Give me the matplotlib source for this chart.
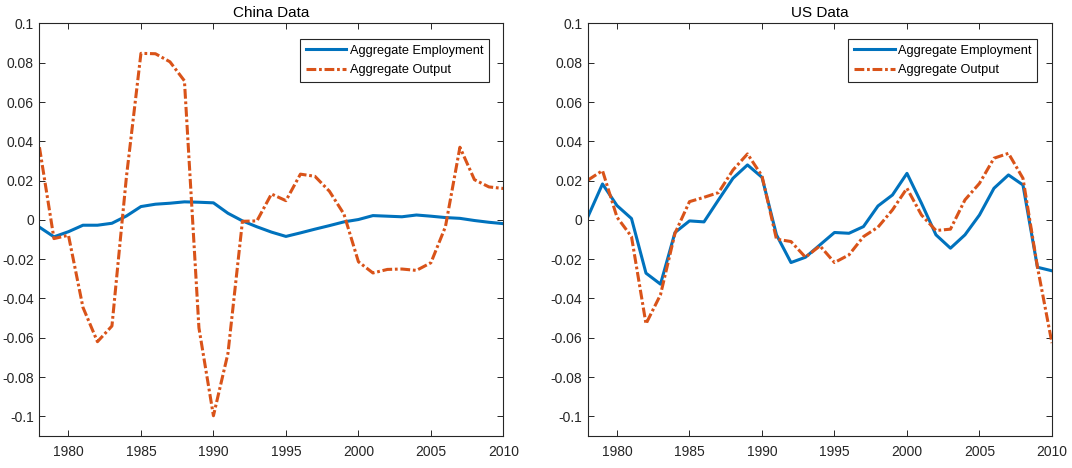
import numpy as np
import matplotlib
matplotlib.use("Agg")
import matplotlib.pyplot as plt

plt.rcParams['font.family'] = ['Liberation Sans', 'DejaVu Sans']
plt.rcParams['axes.unicode_minus'] = False

# 年
years = np.arange(1978, 2011)

# China data
emp_cn = [-0.0037, -0.0086, -0.006, -0.0027, -0.0027, -0.0017, 0.002, 0.0068, 0.008, 0.0085,
          0.0092, 0.009, 0.0087, 0.0034, -0.0005, -0.0035, -0.0062, -0.0084, -0.0066, -0.0047,
          -0.0029, -0.001, 0.0002, 0.0022, 0.0019, 0.0016, 0.0025, 0.0019, 0.0012, 0.0008,
          -0.0003, -0.0012, -0.0019]
out_cn = [0.037, -0.0095, -0.0078, -0.0445, -0.062, -0.054, 0.022, 0.0848, 0.0846, 0.0805,
          0.0708, -0.055, -0.0997, -0.068, -0.0007, -0.0005, 0.0132, 0.0098, 0.0233, 0.0222,
          0.0146, 0.003, -0.0213, -0.027, -0.0252, -0.025, -0.0257, -0.0218, -0.0035, 0.037,
          0.0205, 0.0168, 0.016]

# US data
emp_us = [0.0017, 0.0183, 0.0073, 0.0007, -0.0271, -0.0327, -0.0064, -0.0005, -0.001, 0.0102,
          0.0212, 0.028, 0.0217, -0.0076, -0.0217, -0.019, -0.0127, -0.0064, -0.0068, -0.0034,
          0.0071, 0.0127, 0.0237, 0.0085, -0.0076, -0.0144, -0.0076, 0.0025, 0.0161, 0.0229,
          0.0178, -0.0241, -0.0259]
out_us = [0.0203, 0.0251, 0.0014, -0.0085, -0.0529, -0.0381, -0.0068, 0.0093, 0.0115, 0.0139,
          0.0254, 0.0336, 0.0224, -0.0098, -0.011, -0.019, -0.0132, -0.0217, -0.0178, -0.0085,
          -0.0037, 0.0051, 0.0161, 0.0025, -0.0054, -0.0047, 0.0102, 0.0186, 0.0314, 0.0339,
          0.0212, -0.024, -0.0627]

titles = ['China Data', 'US Data']
labels = ['Aggregate Employment', 'Aggregate Output']
xticks = [1980, 1985, 1990, 1995, 2000, 2005, 2010]
yticks = [-0.1, -0.08, -0.06, -0.04, -0.02, 0, 0.02, 0.04, 0.06, 0.08, 0.1]
ytick_labels = ['-0.1', '-0.08', '-0.06', '-0.04', '-0.02', '0',
                '0.02', '0.04', '0.06', '0.08', '0.1']

blue = '#0072BD'
orange = '#D95319'
dark = '#262626'

fig = plt.figure(figsize=(10.72, 4.68), dpi=100)
ax1 = fig.add_axes([0.0368, 0.0684, 0.4328, 0.8814])
ax2 = fig.add_axes([0.5485, 0.0684, 0.4328, 0.8814])

for ax, title, emp, out in [(ax1, titles[0], emp_cn, out_cn), (ax2, titles[1], emp_us, out_us)]:
    ax.plot(years, emp, color=blue, lw=2.2, label=labels[0])
    ax.plot(years, out, color=orange, lw=2.2, linestyle=(0, (3.2, 0.9, 0.9, 0.9)),
            label=labels[1])
    ax.set_xlim(1978, 2010)
    ax.set_ylim(-0.11, 0.1)
    ax.set_xticks(xticks)
    ax.set_yticks(yticks)
    ax.set_yticklabels(ytick_labels)
    ax.tick_params(direction='in', length=4, width=0.7, color=dark, labelcolor=dark,
                   labelsize=10, top=True, right=True)
    ax.tick_params(axis='x', pad=6.5)
    ax.tick_params(axis='y', pad=4)
    for s in ax.spines.values():
        s.set_color(dark)
        s.set_linewidth(0.8)
    ax.set_title(title, fontsize=11, pad=5)
    leg = ax.legend(loc='upper right', bbox_to_anchor=(0.9688, 0.9624), borderaxespad=0,
                    fontsize=9.2, fancybox=False, framealpha=1, edgecolor=dark,
                    handlelength=3.2, handletextpad=0.25, borderpad=0.45, labelspacing=0.6)
    leg.get_frame().set_linewidth(0.8)

plt.savefig('out.png', dpi=100)
